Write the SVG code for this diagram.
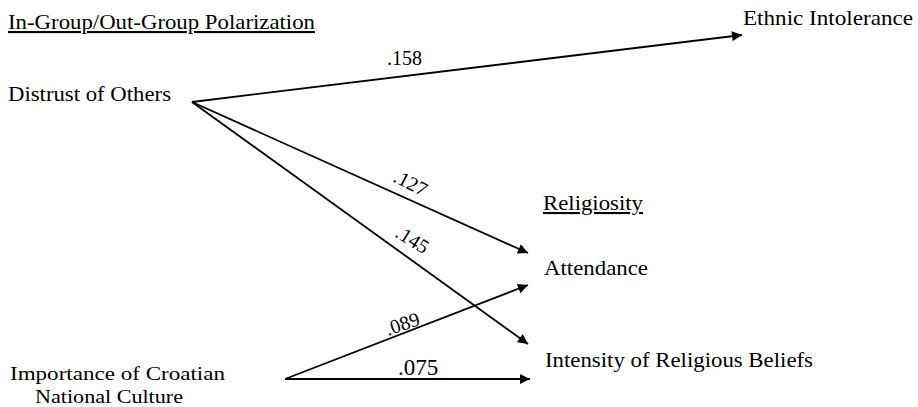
<svg xmlns="http://www.w3.org/2000/svg" width="918" height="407" viewBox="0 0 918 407">
<defs>
<style>
text{font-family:"Liberation Serif","Times New Roman",serif;fill:#000;font-size:21px}
.lbl{font-size:20px}
.big{font-size:23px}
.sm{font-size:19px}
.u{text-decoration:underline}
.c line{stroke:#000;stroke-width:1.8}
</style>
<marker id="ah" viewBox="0 0 10 10" refX="10" refY="5" markerWidth="14" markerHeight="10" markerUnits="userSpaceOnUse" orient="auto"><path d="M0,0 L10,5 L0,10 z" fill="#000"/></marker>
</defs>
<rect width="918" height="407" fill="#fff"/>
<g id="title-polarization"><text x="8" y="29" class="u" textLength="307" lengthAdjust="spacingAndGlyphs">In-Group/Out-Group Polarization</text></g>
<g id="distrust"><text x="8" y="101" textLength="163" lengthAdjust="spacingAndGlyphs">Distrust of Others</text></g>
<g id="ethnic"><text x="743" y="25" textLength="170" lengthAdjust="spacingAndGlyphs">Ethnic Intolerance</text></g>
<g id="title-religiosity"><text x="543" y="210" class="u" textLength="100" lengthAdjust="spacingAndGlyphs">Religiosity</text></g>
<g id="attendance"><text x="544" y="275" textLength="104" lengthAdjust="spacingAndGlyphs">Attendance</text></g>
<g id="intensity"><text x="545" y="367" textLength="268" lengthAdjust="spacingAndGlyphs">Intensity of Religious Beliefs</text></g>
<g id="croatian"><text class="sm" x="10" y="380" textLength="215" lengthAdjust="spacingAndGlyphs">Importance of Croatian</text><text class="sm" x="35" y="403" textLength="148" lengthAdjust="spacingAndGlyphs">National Culture</text></g>
<g id="connectors" class="c">
<line x1="192" y1="102" x2="742" y2="35" marker-end="url(#ah)"/>
<line x1="192" y1="102" x2="528" y2="253" marker-end="url(#ah)"/>
<line x1="192" y1="102" x2="528" y2="344" marker-end="url(#ah)"/>
<line x1="285" y1="379" x2="528" y2="285" marker-end="url(#ah)"/>
<line x1="285" y1="379" x2="530" y2="379" marker-end="url(#ah)"/>
<text class="lbl" x="387" y="65">.158</text>
<text class="lbl" transform="translate(392,181) rotate(27)">.127</text>
<text class="lbl" transform="translate(394,236) rotate(32)">.145</text>
<text class="lbl" transform="translate(388,336) rotate(-19)">.089</text>
<text x="398" y="375" class="big">.075</text>
</g>
</svg>
